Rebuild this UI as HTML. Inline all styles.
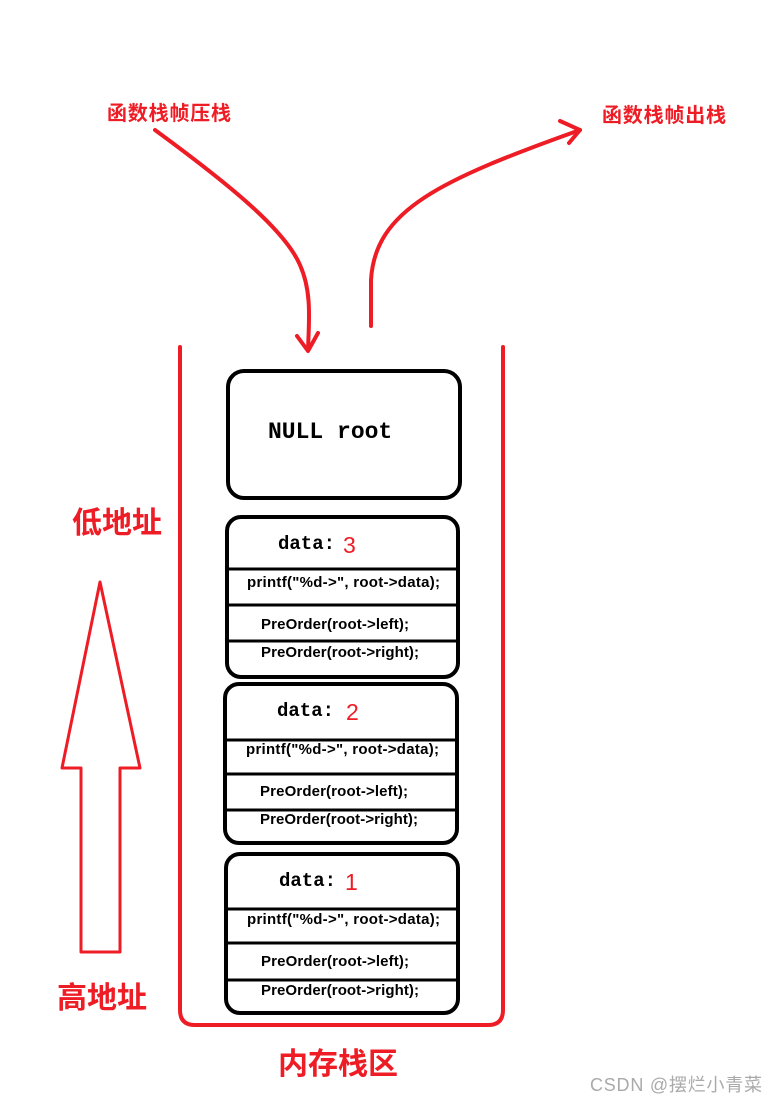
<!DOCTYPE html>
<html><head><meta charset="utf-8"><style>
html,body{margin:0;padding:0;background:#fff}
svg{display:block}
.cn{font-family:"Liberation Sans","Noto Sans CJK SC",sans-serif}
.mono{font-family:"Liberation Mono","DejaVu Sans Mono",monospace;font-weight:bold}
.code{font-family:"Liberation Sans","DejaVu Sans",sans-serif;font-weight:bold;font-size:15px}
</style></head><body>
<svg width="777" height="1103" viewBox="0 0 777 1103" xmlns="http://www.w3.org/2000/svg">
<g fill="none" stroke="#ee1c25" stroke-width="4" stroke-linecap="round" stroke-linejoin="round">
<path d="M155,130 C230,185 285,230 300,265 C312,292 309,320 308,350"/>
<path d="M297,336 L308,351 L318,333"/>
<path d="M371,326 L371,280 C375,210 440,180 580,130"/>
<path d="M560,121 L580,130 L569,143"/>
<path d="M180,347 L180,1010 Q180,1025 195,1025 L488,1025 Q503,1025 503,1010 L503,347"/>
<path d="M100,582 L62,768 L81,768 L81,952 L120,952 L120,768 L140,768 Z" stroke-width="3"/>
</g>
<g fill="#ee1c25" class="cn">
<text x="107" y="120" font-size="20" font-weight="bold" textLength="124">函数栈帧压栈</text>
<text x="602" y="122" font-size="20" font-weight="bold" textLength="124">函数栈帧出栈</text>
<text x="72" y="533" font-size="30" font-weight="bold">低地址</text>
<text x="57" y="1008" font-size="30" font-weight="bold">高地址</text>
<text x="278" y="1074" font-size="30" font-weight="bold">内存栈区</text>
</g>
<g fill="none" stroke="#000" stroke-width="4">
<rect x="228" y="371" width="232" height="127" rx="16"/>
<rect x="227" y="517" width="231" height="160" rx="14"/>
<line x1="227" y1="569" x2="458" y2="569" stroke-width="3"/>
<line x1="227" y1="605" x2="458" y2="605" stroke-width="3"/>
<line x1="227" y1="641" x2="458" y2="641" stroke-width="3"/>
<rect x="225" y="684" width="232" height="159" rx="14"/>
<line x1="225" y1="740" x2="457" y2="740" stroke-width="3"/>
<line x1="225" y1="774" x2="457" y2="774" stroke-width="3"/>
<line x1="225" y1="810" x2="457" y2="810" stroke-width="3"/>
<rect x="226" y="854" width="232" height="159" rx="14"/>
<line x1="226" y1="909" x2="458" y2="909" stroke-width="3"/>
<line x1="226" y1="943" x2="458" y2="943" stroke-width="3"/>
<line x1="226" y1="980" x2="458" y2="980" stroke-width="3"/>
</g>
<text x="268" y="438" class="mono" font-size="23">NULL root</text>
<g class="mono" font-size="19">
<text x="278" y="549">data:</text>
<text x="277" y="716">data:</text>
<text x="279" y="886">data:</text>
</g>
<g fill="#ee1c25" class="cn" font-size="23">
<text x="343" y="553">3</text>
<text x="346" y="720">2</text>
<text x="345" y="890">1</text>
</g>
<g class="code">
<text x="247" y="587" textLength="193">printf("%d-&gt;", root-&gt;data);</text>
<text x="261" y="629" textLength="148">PreOrder(root-&gt;left);</text>
<text x="261" y="657" textLength="158">PreOrder(root-&gt;right);</text>
<text x="246" y="754" textLength="193">printf("%d-&gt;", root-&gt;data);</text>
<text x="260" y="796" textLength="148">PreOrder(root-&gt;left);</text>
<text x="260" y="824" textLength="158">PreOrder(root-&gt;right);</text>
<text x="247" y="924" textLength="193">printf("%d-&gt;", root-&gt;data);</text>
<text x="261" y="966" textLength="148">PreOrder(root-&gt;left);</text>
<text x="261" y="995" textLength="158">PreOrder(root-&gt;right);</text>
</g>
<text x="590" y="1091" class="cn" font-size="18" fill="#aaa" textLength="172">CSDN @摆烂小青菜</text>
</svg>
</body></html>
